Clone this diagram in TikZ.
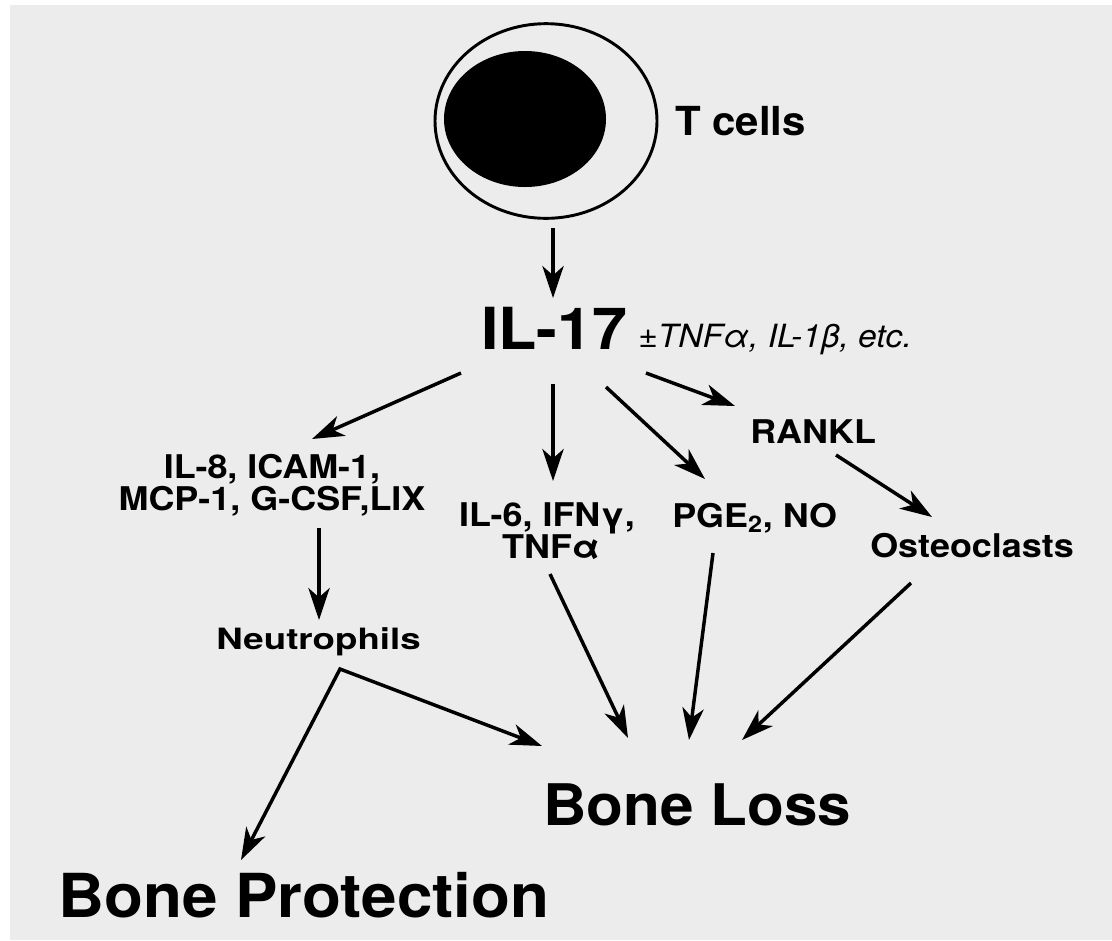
\documentclass[tikz,border=0pt]{standalone}
\usepackage{fontspec}
\setmainfont{TeX Gyre Heros}
\usepackage{graphicx}
\usetikzlibrary{arrows.meta,shapes.geometric}
\definecolor{pagegray}{RGB}{236,236,236}
\newcommand{\sx}[2]{\scalebox{#1}[1]{#2}}
\begin{document}
\begin{tikzpicture}[x=0.75pt,y=-0.75pt,
  tip/.style={-{Stealth[length=24pt,width=16pt,inset=7pt]}},
  conn/.style={line width=2.6pt,tip},
  lbl/.style={inner sep=0pt,anchor=base west,text=black},
  mid/.style={font=\bfseries\fontsize{24.5}{29}\selectfont}]
\useasboundingbox (0,0) rectangle (1112,940);
\fill[white] (0,0) rectangle (1112,940);
\fill[pagegray] (10,5) rectangle (1112,940);

% T cell
\node[draw,ellipse,line width=2.2pt,minimum width=166.5pt,minimum height=146pt,inner sep=0pt] (cell) at (546,121) {};
\coordinate (nucleus) at (525,119);
\fill[black] (nucleus) ellipse [x radius=81, y radius=68];
\node[lbl,font=\bfseries\fontsize{30}{36}\selectfont] (tcells) at (675,135) {\sx{1.05}{T cells}};

% IL-17
\node[lbl,font=\bfseries\fontsize{43.5}{52}\selectfont] (il17) at (481,349) {\sx{1.08}{IL-17}};
\node[lbl,font=\itshape\fontsize{24}{29}\selectfont] (cof) at (638,347) {\sx{1.05}{±TNFα, IL-1β, etc.}};

% second row
\node[lbl,mid] (rankl) at (750,443) {\sx{1.1}{RANKL}};
\node[lbl,mid,anchor=base] (il8) at (272,478) {\sx{1.1}{IL-8, ICAM-1,}};
\node[lbl,mid,anchor=base] (mcp) at (272,510) {\sx{1.1}{MCP-1, G-CSF,LIX}};
\node[lbl,mid,anchor=base] (il6) at (547,526) {\sx{1.1}{IL-6, IFNγ,}};
\node[lbl,mid,anchor=base] (tnf) at (551,558) {\sx{1.1}{TNFα}};
\node[lbl,mid] (pge) at (672,527) {\sx{1.1}{PGE\textsubscript{2}, NO}};
\node[lbl,mid] (osteo) at (870,557) {\sx{1.1}{Osteoclasts}};
\node[lbl,font=\bfseries\fontsize{22}{26}\selectfont] (neut) at (216,649) {\sx{1.25}{Neutrophils}};

% outcomes
\node[lbl,font=\bfseries\fontsize{43}{52}\selectfont] (bl) at (543,825) {\sx{1.05}{Bone Loss}};
\node[lbl,font=\bfseries\fontsize{45.5}{54}\selectfont] (bp) at (58,917) {\sx{1.05}{Bone Protection}};

% connector end points
\coordinate (cellout) at (553,228);
\coordinate (il17in) at (553,298);
\coordinate (il17l) at (461,373);
\coordinate (il8in) at (312,439);
\coordinate (il17c) at (553,384);
\coordinate (il6in) at (553,481);
\coordinate (il17r) at (606,387);
\coordinate (pgein) at (705,479);
\coordinate (il17rr) at (646,373);
\coordinate (ranklin) at (735,406);
\coordinate (ranklout) at (836,455);
\coordinate (osteoin) at (932,517);
\coordinate (mcpout) at (319,528);
\coordinate (neutin) at (319,620);
\coordinate (tnfout) at (550,574);
\coordinate (bltnf) at (628,738);
\coordinate (pgeout) at (713,553);
\coordinate (blpge) at (689,740);
\coordinate (osteoout) at (911,583);
\coordinate (blost) at (742,740);
\coordinate (apex) at (340,669);
\coordinate (bpin) at (241,860);
\coordinate (blneut) at (542,746);

\draw[conn] (cellout) -- (il17in);
\draw[conn] (il17l) -- (il8in);
\draw[conn] (il17c) -- (il6in);
\draw[conn] (il17r) -- (pgein);
\draw[conn] (il17rr) -- (ranklin);
\draw[conn] (ranklout) -- (osteoin);
\draw[conn] (mcpout) -- (neutin);
\draw[conn] (tnfout) -- (bltnf);
\draw[conn] (pgeout) -- (blpge);
\draw[conn] (osteoout) -- (blost);
\draw[line width=2.6pt,line join=miter,{Stealth[length=24pt,width=16pt,inset=7pt]}-{Stealth[length=24pt,width=16pt,inset=7pt]}] (bpin) -- (apex) -- (blneut);
\end{tikzpicture}
\end{document}
